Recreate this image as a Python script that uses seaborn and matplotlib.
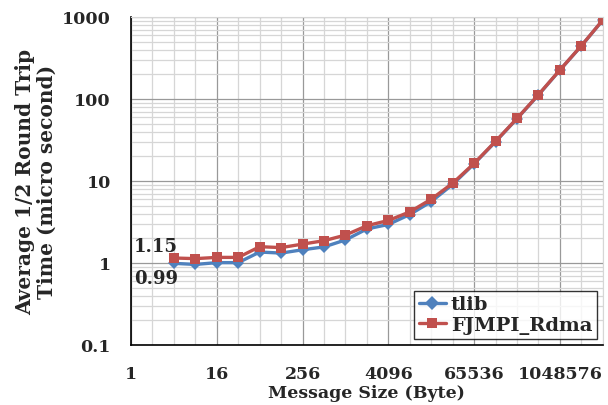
import numpy as np
import pandas as pd
import matplotlib
matplotlib.use("Agg")
import matplotlib.pyplot as plt
import seaborn as sns
from matplotlib.ticker import FixedLocator, NullFormatter, LogLocator

# -----------------------------
# Data
# -----------------------------
sizes = [2 ** k for k in range(2, 23)]
tlib = [0.99, 0.96, 1.01, 1.01, 1.36, 1.32, 1.45, 1.57, 1.91, 2.6, 2.95,
        3.9, 5.6, 9.1, 16.2, 30.2, 57.5, 112, 225, 444, 915]
fjmpi = [1.15, 1.13, 1.17, 1.17, 1.58, 1.54, 1.70, 1.87, 2.19, 2.85, 3.3,
         4.2, 6.0, 9.4, 16.4, 30.5, 58, 113, 226, 446, 919]
x_ticks = [1, 16, 256, 4096, 65536, 1048576]
y_ticks = [0.1, 1, 10, 100, 1000]

df = pd.DataFrame({"size": sizes * 2,
                   "time": tlib + fjmpi,
                   "lib": ["tlib"] * len(sizes) + ["FJMPI_Rdma"] * len(sizes)})

sns.set_style("white")
plt.rcParams["font.family"] = ["DejaVu Serif"]
plt.rcParams["font.weight"] = "bold"

fig = plt.figure(figsize=(6.08, 4.06), dpi=100)
ax = fig.add_axes([0.2155, 0.1478, 0.776, 0.808])

sns.lineplot(data=df, x="size", y="time", hue="lib", style="lib",
             palette={"tlib": "#4F81BD", "FJMPI_Rdma": "#C0504D"},
             markers={"tlib": "D", "FJMPI_Rdma": "s"},
             dashes=False, linewidth=2.4, markersize=7.5,
             markeredgewidth=0, ax=ax)
# diamond a bit smaller than the square
ax.lines[0].set_markersize(6)

ax.set_xscale("log", base=2)
ax.set_yscale("log")
ax.set_xlim(1, 2 ** 22)
ax.set_ylim(0.1, 1000)

ax.xaxis.set_major_locator(FixedLocator(x_ticks))
ax.set_xticklabels([str(v) for v in x_ticks])
ax.xaxis.set_minor_locator(FixedLocator([2 ** k for k in range(23)]))
ax.xaxis.set_minor_formatter(NullFormatter())
ax.yaxis.set_major_locator(FixedLocator(y_ticks))
ax.set_yticklabels(["0.1", "1", "10", "100", "1000"])
ax.yaxis.set_minor_locator(LogLocator(base=10, subs=np.arange(2, 10)))
ax.yaxis.set_minor_formatter(NullFormatter())

ax.grid(which="major", color="#999999", linewidth=0.9)
ax.grid(which="minor", color="#d6d6d6", linewidth=0.9)
ax.set_axisbelow(True)

ax.tick_params(which="major", direction="out", length=4.5, width=1,
               color="black", labelsize=12.5)
ax.tick_params(axis="y", which="major", pad=10)
ax.tick_params(axis="x", which="major", pad=10)
ax.tick_params(which="minor", length=0)
for t in ax.get_xticklabels() + ax.get_yticklabels():
    t.set_fontweight("bold")

for s in ["left", "bottom"]:
    ax.spines[s].set_color("black")
    ax.spines[s].set_linewidth(1.2)
for s in ["top", "right"]:
    ax.spines[s].set_color("#d6d6d6")

ax.set_xlabel("Message Size (Byte)", fontsize=12.5, fontweight="bold", labelpad=1)
ax.set_ylabel("Average 1/2 Round Trip\nTime (micro second)", fontsize=14.5,
              fontweight="bold", labelpad=4, linespacing=1.1)

ax.text(1.1, fjmpi[0] * 1.08, "1.15", fontsize=13, fontweight="bold",
        ha="left", va="bottom")
ax.text(1.1, tlib[0] * 0.86, "0.99", fontsize=13, fontweight="bold",
        ha="left", va="top")

leg = ax.legend(loc="lower right", fontsize=14, frameon=True, fancybox=False,
                borderpad=0.25, labelspacing=0.15, handlelength=1.4,
                handletextpad=0.25, borderaxespad=0.3)
leg.get_frame().set_edgecolor("black")
leg.get_frame().set_linewidth(1.0)
for t in leg.get_texts():
    t.set_fontweight("bold")

plt.savefig("out.png", dpi=100)
plt.close()
